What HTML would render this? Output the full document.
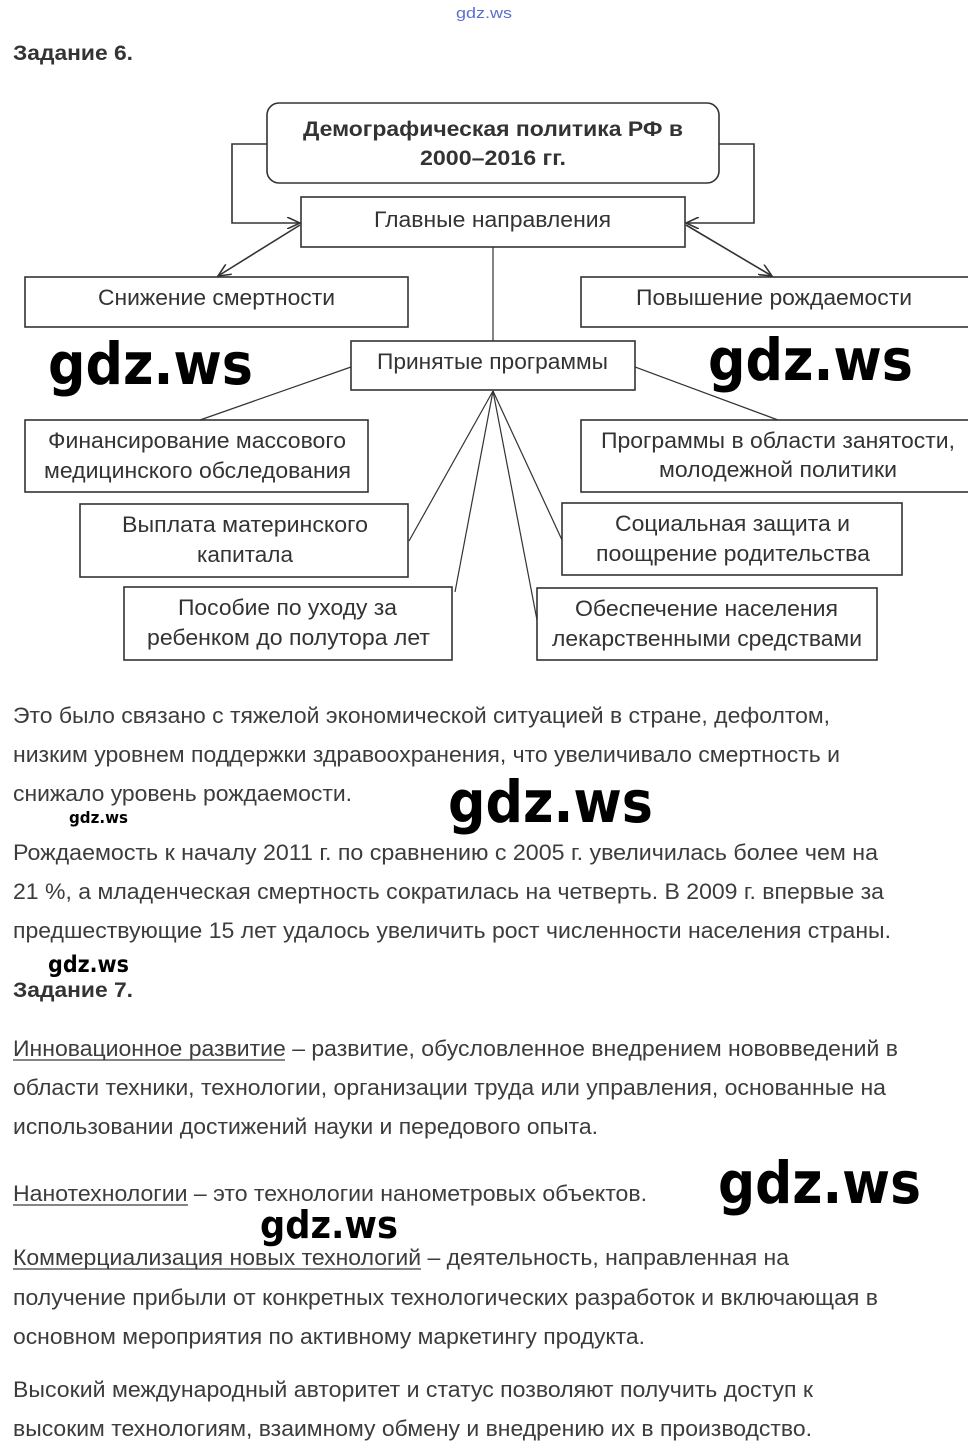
<!DOCTYPE html>
<html><head><meta charset="utf-8"><style>
html,body{margin:0;padding:0;background:#fff;}
svg{display:block;}
.d{font-family:"Liberation Sans",sans-serif;font-size:22px;fill:#333;}
.t{font-family:"Liberation Sans",sans-serif;font-size:22px;fill:#3c3c3c;}
.b{font-family:"Liberation Sans",sans-serif;font-size:21px;font-weight:bold;fill:#333;}
.w{font-family:"DejaVu Sans","Liberation Sans",sans-serif;fill:#000;font-weight:bold;}
</style></head><body>
<svg width="968" height="1454" viewBox="0 0 968 1454" xmlns="http://www.w3.org/2000/svg">
<defs><marker id="a" markerWidth="14" markerHeight="12" refX="13" refY="6" orient="auto" markerUnits="userSpaceOnUse"><path d="M0,0 L13,6 L0,12" fill="none" stroke="#333" stroke-width="1.6"/></marker></defs>
<g lengthAdjust="spacingAndGlyphs">
<text x="484" y="18" text-anchor="middle" font-family="Liberation Sans,sans-serif" font-size="15" fill="#5a6fd0" textLength="56" lengthAdjust="spacingAndGlyphs">gdz.ws</text>
<text class="b" x="13" y="60" textLength="120" lengthAdjust="spacingAndGlyphs">Задание 6.</text>
</g>
<g fill="none" stroke="#333" stroke-width="1.6">
<rect x="267" y="103" width="452" height="80" rx="12"/>
<rect x="301" y="197" width="384" height="50"/>
<rect x="25" y="277" width="383" height="50"/>
<rect x="581" y="277" width="390" height="50"/>
<rect x="351" y="341" width="284" height="49"/>
<rect x="25" y="420" width="343" height="72"/>
<rect x="581" y="420" width="390" height="72"/>
<rect x="80" y="504" width="328" height="73"/>
<rect x="562" y="503" width="340" height="72"/>
<rect x="124" y="587" width="328" height="73"/>
<rect x="537" y="588" width="340" height="72"/>
<polyline points="267,144 232,144 232,223 300,223" marker-end="url(#a)"/>
<polyline points="719,144 754,144 754,223 686,223" marker-end="url(#a)"/>
<line x1="300" y1="225" x2="218" y2="276" marker-end="url(#a)"/>
<line x1="686" y1="225" x2="772" y2="276" marker-end="url(#a)"/>
<g stroke-width="1.2">
<line x1="493" y1="247" x2="493" y2="341"/>
<line x1="351" y1="367" x2="200" y2="420"/>
<line x1="635" y1="367" x2="778" y2="420"/>
<line x1="493" y1="391" x2="409" y2="541"/>
<line x1="493" y1="391" x2="455" y2="592"/>
<line x1="493" y1="391" x2="562" y2="540"/>
<line x1="493" y1="391" x2="537" y2="620"/>
</g>
</g>
<text class="b" x="303" y="136" textLength="380" lengthAdjust="spacingAndGlyphs">Демографическая политика РФ в</text>
<text class="b" x="420" y="165" textLength="146" lengthAdjust="spacingAndGlyphs">2000–2016 гг.</text>
<text class="d" x="374" y="227" textLength="237" lengthAdjust="spacingAndGlyphs">Главные направления</text>
<text class="d" x="98" y="305" textLength="237" lengthAdjust="spacingAndGlyphs">Снижение смертности</text>
<text class="d" x="636" y="305" textLength="276" lengthAdjust="spacingAndGlyphs">Повышение рождаемости</text>
<text class="d" x="377" y="369" textLength="231" lengthAdjust="spacingAndGlyphs">Принятые программы</text>
<text class="d" x="48" y="448" textLength="298" lengthAdjust="spacingAndGlyphs">Финансирование массового</text>
<text class="d" x="44" y="478" textLength="307" lengthAdjust="spacingAndGlyphs">медицинского обследования</text>
<text class="d" x="601" y="448" textLength="354" lengthAdjust="spacingAndGlyphs">Программы в области занятости,</text>
<text class="d" x="659" y="477" textLength="238" lengthAdjust="spacingAndGlyphs">молодежной политики</text>
<text class="d" x="122" y="532" textLength="246" lengthAdjust="spacingAndGlyphs">Выплата материнского</text>
<text class="d" x="197" y="562" textLength="96" lengthAdjust="spacingAndGlyphs">капитала</text>
<text class="d" x="615" y="531" textLength="235" lengthAdjust="spacingAndGlyphs">Социальная защита и</text>
<text class="d" x="596" y="561" textLength="274" lengthAdjust="spacingAndGlyphs">поощрение родительства</text>
<text class="d" x="178" y="615" textLength="219" lengthAdjust="spacingAndGlyphs">Пособие по уходу за</text>
<text class="d" x="147" y="645" textLength="283" lengthAdjust="spacingAndGlyphs">ребенком до полутора лет</text>
<text class="d" x="575" y="616" textLength="263" lengthAdjust="spacingAndGlyphs">Обеспечение населения</text>
<text class="d" x="552" y="646" textLength="310" lengthAdjust="spacingAndGlyphs">лекарственными средствами</text>
<text class="w" x="48" y="384" font-size="58" textLength="205" lengthAdjust="spacingAndGlyphs">gdz.ws</text>
<text class="w" x="708" y="380" font-size="58" textLength="205" lengthAdjust="spacingAndGlyphs">gdz.ws</text>
<text class="t" x="13" y="723" textLength="817" lengthAdjust="spacingAndGlyphs">Это было связано с тяжелой экономической ситуацией в стране, дефолтом,</text>
<text class="t" x="13" y="762" textLength="827" lengthAdjust="spacingAndGlyphs">низким уровнем поддержки здравоохранения, что увеличивало смертность и</text>
<text class="t" x="13" y="801" textLength="339" lengthAdjust="spacingAndGlyphs">снижало уровень рождаемости.</text>
<text class="w" x="448" y="822" font-size="58" textLength="205" lengthAdjust="spacingAndGlyphs">gdz.ws</text>
<text class="w" x="69" y="823" font-size="16" textLength="59" lengthAdjust="spacingAndGlyphs">gdz.ws</text>
<text class="t" x="13" y="860" textLength="865" lengthAdjust="spacingAndGlyphs">Рождаемость к началу 2011 г. по сравнению с 2005 г. увеличилась более чем на</text>
<text class="t" x="13" y="899" textLength="871" lengthAdjust="spacingAndGlyphs">21 %, а младенческая смертность сократилась на четверть. В 2009 г. впервые за</text>
<text class="t" x="13" y="938" textLength="878" lengthAdjust="spacingAndGlyphs">предшествующие 15 лет удалось увеличить рост численности населения страны.</text>
<text class="w" x="48" y="972" font-size="23" textLength="81" lengthAdjust="spacingAndGlyphs">gdz.ws</text>
<text class="b" x="13" y="997" textLength="120" lengthAdjust="spacingAndGlyphs">Задание 7.</text>
<text class="t" x="13" y="1056" textLength="885" lengthAdjust="spacingAndGlyphs">Инновационное развитие – развитие, обусловленное внедрением нововведений в</text>
<text class="t" x="13" y="1095" textLength="873" lengthAdjust="spacingAndGlyphs">области техники, технологии, организации труда или управления, основанные на</text>
<text class="t" x="13" y="1134" textLength="585" lengthAdjust="spacingAndGlyphs">использовании достижений науки и передового опыта.</text>
<text class="t" x="13" y="1201" textLength="634" lengthAdjust="spacingAndGlyphs">Нанотехнологии – это технологии нанометровых объектов.</text>
<text class="w" x="718" y="1203" font-size="58" textLength="203" lengthAdjust="spacingAndGlyphs">gdz.ws</text>
<text class="w" x="260" y="1238" font-size="38" textLength="138" lengthAdjust="spacingAndGlyphs">gdz.ws</text>
<text class="t" x="13" y="1265" textLength="776" lengthAdjust="spacingAndGlyphs">Коммерциализация новых технологий – деятельность, направленная на</text>
<text class="t" x="13" y="1305" textLength="865" lengthAdjust="spacingAndGlyphs">получение прибыли от конкретных технологических разработок и включающая в</text>
<text class="t" x="13" y="1344" textLength="632" lengthAdjust="spacingAndGlyphs">основном мероприятия по активному маркетингу продукта.</text>
<text class="t" x="13" y="1397" textLength="800" lengthAdjust="spacingAndGlyphs">Высокий международный авторитет и статус позволяют получить доступ к</text>
<text class="t" x="13" y="1436" textLength="799" lengthAdjust="spacingAndGlyphs">высоким технологиям, взаимному обмену и внедрению их в производство.</text>
<g stroke="#3c3c3c" stroke-width="1.2">
<line x1="13" y1="1060" x2="285" y2="1060"/>
<line x1="13" y1="1205" x2="188" y2="1205"/>
<line x1="13" y1="1269" x2="421" y2="1269"/>
</g>
</svg>
</body></html>
